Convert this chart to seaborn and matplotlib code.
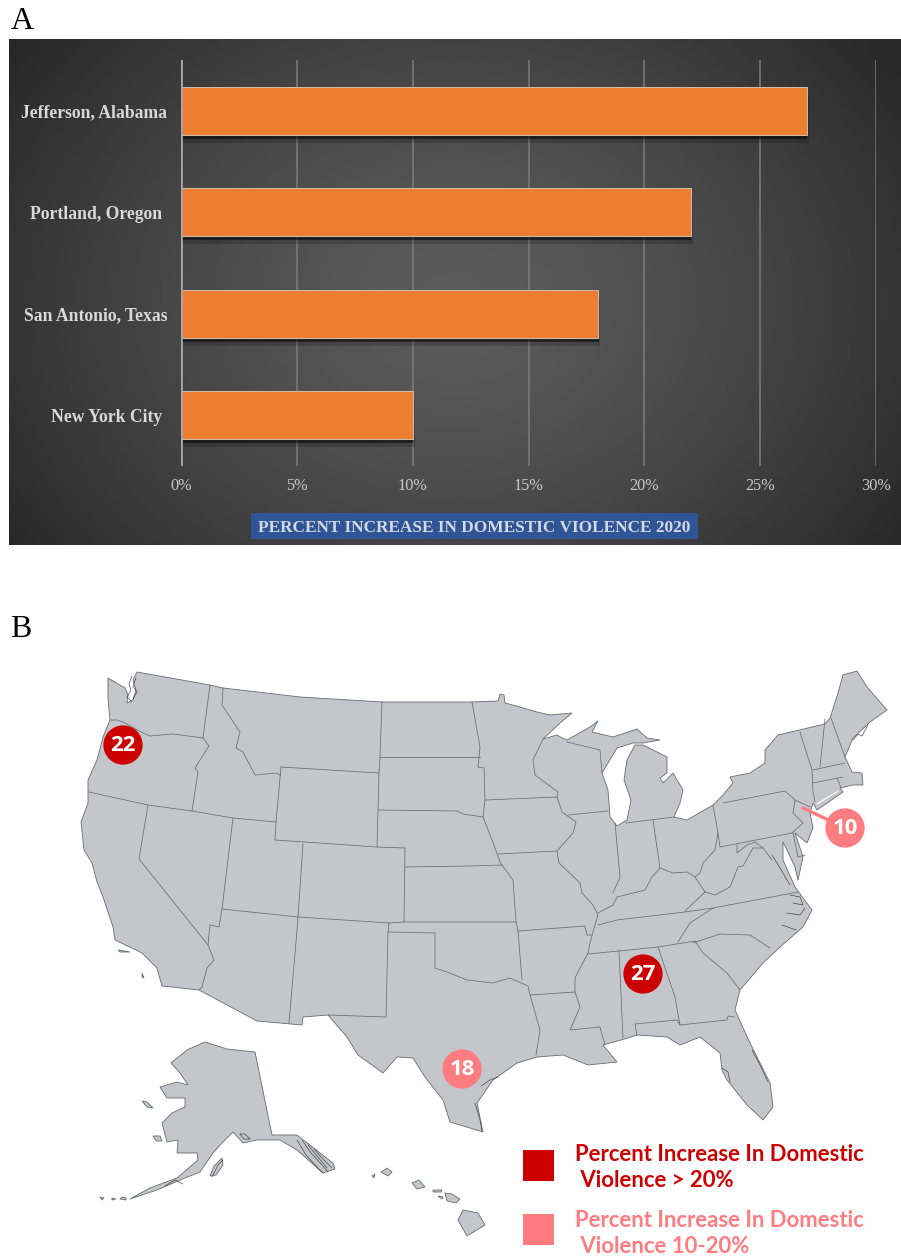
import numpy as np
import pandas as pd
import matplotlib
matplotlib.use("Agg")
import matplotlib.pyplot as plt
import matplotlib.patheffects as pe
from matplotlib.patches import Polygon, Rectangle
from matplotlib.transforms import ScaledTranslation
import seaborn as sns

# bar panel
cities = ["Jefferson, Alabama", "Portland, Oregon", "San Antonio, Texas", "New York City"]
increase = [27, 22, 18, 10]
x_ticks = [0, 5, 10, 15, 20, 25, 30]
panel_title = "PERCENT INCREASE IN DOMESTIC VIOLENCE 2020"

# map panel, values and where the cities sit on the map (pixels of the picture)
map_values = [22, 27, 18, 10]
map_x = [123, 643, 462, 845]
map_y = [745, 974, 1069, 828]
map_group = ["high", "high", "low", "low"]
legend_text = ["Percent Increase In Domestic\n Violence > 20%",
               "Percent Increase In Domestic\n Violence 10-20%"]

conus = [(137, 672), (210, 685), (223, 688), (300, 697), (382, 702), (472, 702), (498, 701), (500, 694), (504, 695),
         (505, 703), (520, 707), (537, 712), (550, 715), (572, 713), (560, 723), (543, 739), (557, 735), (562, 738),
         (567, 740), (590, 727), (598, 721), (592, 732), (613, 737), (637, 729), (647, 738), (660, 740), (643, 743),
         (633, 743), (617, 748), (602, 773), (608, 790), (610, 817), (617, 826), (627, 820), (631, 800), (624, 780),
         (627, 760), (635, 745), (643, 745), (667, 757), (667, 773), (660, 778), (663, 783), (673, 773), (683, 790),
         (680, 803), (674, 817), (687, 820), (713, 805), (723, 795), (733, 783), (730, 777), (750, 773), (765, 763),
         (765, 750), (778, 735), (825, 724), (830, 718), (838, 693), (843, 675), (857, 671), (867, 687), (887, 710),
         (870, 722), (853, 738), (845, 757), (852, 772), (862, 773), (863, 785), (853, 785), (840, 788), (843, 792),
         (817, 810), (813, 803), (810, 813), (813, 828), (807, 843), (795, 833), (803, 857), (798, 880), (795, 867),
         (787, 850), (783, 842), (783, 860), (795, 887), (812, 910), (803, 927), (780, 947), (763, 963), (740, 990),
         (735, 1010), (750, 1043), (770, 1083), (773, 1107), (763, 1120), (747, 1105), (727, 1080), (722, 1070),
         (720, 1053), (700, 1037), (680, 1045), (667, 1037), (637, 1035), (628, 1038), (603, 1045), (617, 1062),
         (588, 1065), (563, 1055), (537, 1057), (517, 1063), (493, 1080), (477, 1103), (483, 1132), (450, 1122),
         (443, 1100), (425, 1077), (413, 1058), (397, 1057), (383, 1073), (358, 1055), (347, 1037), (328, 1015),
         (303, 1017), (302, 1025), (257, 1021), (199, 990), (162, 986), (157, 968), (142, 953), (115, 940), (113, 927),
         (103, 897), (97, 882), (92, 863), (84, 850), (81, 822), (88, 803), (88, 780), (97, 760), (103, 737),
         (110, 720), (108, 700), (108, 678), (125, 688), (128, 695), (127, 703), (133, 700), (136, 690), (133, 680)]

state_lines = [
    [(210, 685), (203, 738)],
    [(110, 720), (117, 720), (123, 722), (143, 733), (150, 736), (173, 734), (203, 738)],
    [(203, 738), (209, 746), (195, 768), (198, 772), (192, 811)],
    [(89, 792), (148, 805), (192, 811), (233, 818), (276, 822)],
    [(223, 688), (222, 705), (240, 732), (236, 748), (243, 752), (255, 775), (277, 773), (281, 776)],
    [(281, 767), (276, 822), (275, 840)],
    [(281, 767), (379, 773)],
    [(275, 840), (377, 847), (405, 848)],
    [(382, 702), (380, 757), (379, 773), (378, 810), (377, 847)],
    [(380, 757), (480, 757)],
    [(378, 810), (457, 811), (463, 814), (483, 817)],
    [(405, 848), (404, 922)],
    [(405, 867), (470, 866), (502, 865)],
    [(148, 805), (139, 859), (208, 945)],
    [(208, 945), (214, 960), (207, 968), (202, 987), (199, 990)],
    [(233, 818), (222, 909), (219, 927), (210, 925), (208, 945)],
    [(303, 844), (298, 917), (297, 930), (289, 1023)],
    [(222, 909), (298, 917), (389, 923), (404, 922), (470, 922), (516, 922)],
    [(389, 923), (388, 932), (386, 1017), (328, 1015)],
    [(388, 932), (435, 933), (435, 968), (447, 972), (467, 980), (493, 983), (510, 978), (528, 986), (530, 995),
     (540, 1030), (536, 1055)],
    [(518, 931), (522, 980)],
    [(530, 995), (575, 992)],
    [(502, 865), (513, 880), (516, 922), (518, 931), (585, 926), (587, 935), (592, 935)],
    [(472, 702), (480, 747), (478, 767), (484, 768), (485, 800), (483, 817), (492, 840), (500, 862), (502, 865)],
    [(485, 800), (557, 797)],
    [(543, 739), (533, 760), (535, 775), (558, 792), (557, 797), (562, 812), (576, 822), (573, 833), (565, 842),
     (557, 851), (559, 863), (580, 883), (582, 893), (593, 905), (598, 915), (595, 925), (590, 943), (588, 953),
     (575, 978), (575, 992), (580, 1007), (570, 1030), (600, 1027), (605, 1045)],
    [(498, 854), (557, 851)],
    [(568, 815), (608, 811)],
    [(567, 742), (600, 750), (602, 773)],
    [(588, 954), (619, 951), (658, 947), (695, 941)],
    [(619, 951), (623, 1038)],
    [(658, 947), (675, 997), (680, 1025)],
    [(635, 1024), (637, 1036)],
    [(635, 1024), (677, 1020), (680, 1025), (727, 1020), (728, 1016), (735, 1017)],
    [(695, 941), (703, 953), (727, 973), (740, 990)],
    [(678, 942), (690, 923), (713, 908)],
    [(598, 925), (617, 920), (685, 912), (713, 908), (798, 892)],
    [(685, 911), (705, 892), (695, 877), (687, 872), (673, 873), (660, 868), (652, 877), (645, 890), (633, 893),
     (617, 897), (613, 905), (598, 913)],
    [(615, 823), (620, 877), (613, 893)],
    [(653, 820), (660, 868)],
    [(626, 823), (674, 817)],
    [(713, 805), (718, 833), (720, 847), (792, 833)],
    [(718, 833), (715, 850), (703, 863), (700, 873), (695, 877)],
    [(737, 844), (737, 853), (747, 845), (755, 842), (763, 848)],
    [(705, 892), (715, 895), (730, 887), (738, 867), (743, 866), (753, 848), (763, 848), (772, 860)],
    [(723, 803), (785, 791), (795, 800), (793, 813), (803, 823), (792, 833)],
    [(795, 800), (810, 807)],
    [(800, 732), (812, 770), (813, 792), (815, 802)],
    [(825, 719), (820, 767)],
    [(831, 718), (845, 757)],
    [(813, 770), (845, 763)],
    [(813, 783), (843, 777)],
    [(837, 778), (841, 788)],
    [(793, 833), (798, 857), (805, 855)],
    [(693, 943), (720, 934), (750, 935), (770, 948)],
]

# dark scribbles of the broken coasts: Puget Sound, Alaska panhandle, sounds
coast_bits = [
    [(132, 676), (129, 684), (131, 690), (127, 697), (132, 702)],
    [(136, 678), (133, 686), (137, 692), (133, 699)],
    [(297, 1140), (306, 1155), (318, 1168), (323, 1173)],
    [(302, 1140), (311, 1153), (322, 1165), (328, 1172)],
    [(308, 1145), (317, 1156), (327, 1168)],
    [(314, 1149), (322, 1158), (332, 1168)],
    [(240, 1134), (244, 1139), (250, 1139), (245, 1134), (240, 1134)],
    [(212, 1177), (218, 1165), (223, 1160)],
    [(165, 1186), (175, 1180), (183, 1184)],
    [(790, 895), (800, 897), (803, 905), (793, 903)],
    [(787, 913), (800, 915), (805, 908)],
    [(782, 925), (796, 930)],
    [(772, 855), (780, 868), (790, 885)],
    [(853, 740), (858, 734), (862, 736), (868, 725)],
    [(481, 1086), (490, 1080), (498, 1077)],
    [(475, 1103), (480, 1120), (482, 1131)],
    [(722, 1068), (728, 1072), (730, 1082)],
    [(752, 1050), (760, 1065), (768, 1082)],
]

alaska = [(255, 1052), (272, 1135), (280, 1135), (297, 1135), (333, 1163), (335, 1169), (323, 1173), (297, 1150),
          (280, 1140), (270, 1140), (257, 1140), (243, 1143), (233, 1132), (222, 1143), (213, 1153), (200, 1172),
          (180, 1180), (157, 1190), (130, 1199), (150, 1188), (177, 1178), (198, 1160), (197, 1153), (177, 1153),
          (178, 1140), (167, 1142), (162, 1123), (172, 1113), (185, 1107), (185, 1098), (167, 1098), (160, 1087),
          (177, 1082), (188, 1085), (180, 1073), (171, 1063), (187, 1050), (205, 1042), (227, 1049)]
islands = [
    [(463, 1210), (478, 1213), (485, 1225), (467, 1236), (458, 1220)],
    [(445, 1193), (452, 1194), (460, 1199), (456, 1203), (447, 1201)],
    [(412, 1183), (419, 1180), (425, 1187), (417, 1189)],
    [(381, 1172), (387, 1168), (392, 1172), (388, 1176)],
    [(433, 1190), (442, 1190), (441, 1192), (433, 1192)],
    [(438, 1196), (443, 1197), (442, 1199)],
    [(372, 1176), (375, 1174), (374, 1178)],
    [(153, 1136), (160, 1136), (162, 1141), (156, 1141)],
    [(142, 1101), (147, 1102), (153, 1108), (147, 1107)],
    [(210, 1176), (214, 1166), (222, 1158), (223, 1165), (216, 1175)],
    [(118, 950), (130, 952), (120, 952)],
    [(142, 973), (144, 978), (142, 977)],
    [(126, 1198), (122, 1197), (120, 1199), (126, 1200)],
    [(116, 1199), (112, 1198), (112, 1200)],
    [(104, 1198), (100, 1197), (102, 1200)],
]

sns.set_theme(style="white")
plt.rcParams["font.family"] = ["Liberation Serif", "DejaVu Serif"]

W, H = 901, 1256
fig = plt.figure(figsize=(W / 100, H / 100), dpi=100)

def px_axes(left, top, right, bottom):
    return fig.add_axes([left / W, 1 - bottom / H, (right - left) / W, (bottom - top) / H])

# map layer, whole picture in pixel coordinates
ax_map = fig.add_axes([0, 0, 1, 1])
ax_map.set_xlim(0, W)
ax_map.set_ylim(H, 0)
ax_map.axis("off")

land = "#c3c6ca"
edge = "#686b6f"
for shape in [conus, alaska] + islands:
    ax_map.add_patch(Polygon(shape, closed=True, fc=land, ec=edge, lw=0.6, zorder=1))
for line in state_lines:
    xs, ys = zip(*line)
    ax_map.plot(xs, ys, color=edge, lw=0.55, zorder=2)
for line in coast_bits:
    xs, ys = zip(*line)
    ax_map.plot(xs, ys, color="#3a3b3d", lw=0.45, zorder=2)
# Long Island Sound
ax_map.plot([817, 838], [804, 791], color="white", lw=0.8, zorder=2)

df_map = pd.DataFrame({"x": map_x, "y": map_y, "v": map_values, "group": map_group})
colors = {"high": "#cc0000", "low": "#ff7c80"}
# pointer from the New York bubble
ax_map.plot([845, 803], [828, 808], color=colors["low"], lw=2.4, zorder=3, solid_capstyle="round")
sns.scatterplot(data=df_map, x="x", y="y", hue="group", palette=colors, s=800, linewidth=0,
                legend=False, ax=ax_map, zorder=4)
ax_map.set_xlim(0, W)
ax_map.set_ylim(H, 0)
ax_map.axis("off")
for _, r in df_map.iterrows():
    ax_map.text(r["x"], r["y"] + 0.5, str(r["v"]), color="white", ha="center", va="center",
                family="Open Sans", fontweight="bold", fontsize=16, zorder=5)

for top, mid, key, txt in zip([1150, 1214], [1167.5, 1233.5], ["high", "low"], legend_text):
    ax_map.add_patch(Rectangle((523, top), 31, 31, fc=colors[key], ec="none", zorder=3))
    ax_map.text(575, mid, txt, color=colors[key], ha="left", va="center", family="Lato",
                fontweight="bold", fontsize=15.9, linespacing=1.32, zorder=3)

ax_map.text(11, 29, "A", color="black", fontsize=23, ha="left", va="baseline")
ax_map.text(10, 637, "B", color="black", fontsize=23, ha="left", va="baseline")

# dark panel behind the bars
ax_bg = px_axes(9, 39, 901, 545)
yy, xx = np.mgrid[0:1:200j, 0:1:350j]
dist = np.sqrt(((xx - 0.5) / 0.6) ** 2 + ((yy - 0.52) / 0.85) ** 2)
shade = 0.36 - 0.2 * np.clip(dist, 0, 1) ** 1.4
ax_bg.imshow(shade, cmap="gray", vmin=0, vmax=1, aspect="auto", interpolation="bilinear")
ax_bg.axis("off")

# bars
ax = px_axes(181, 60, 876, 466)
ax.patch.set_alpha(0)
df_bar = pd.DataFrame({"city": cities, "increase": increase})
sns.barplot(data=df_bar, y="city", x="increase", color="#ed7d31", saturation=1, width=0.47,
            edgecolor="#cdbfb2", linewidth=0.7, ax=ax)
for bar in ax.patches:
    bar.set_path_effects([pe.SimplePatchShadow(offset=(1.5, -6), shadow_rgbFace="black", alpha=0.18),
                          pe.SimplePatchShadow(offset=(0.5, -3), shadow_rgbFace="black", alpha=0.5),
                          pe.Normal()])
ax.set_xlim(0, 30)
ax.set_xticks(x_ticks)
ax.set_xticklabels([f"{t}%" for t in x_ticks])
ax.set_xlabel("")
ax.set_ylabel("")
ax.set_axisbelow(True)
ax.xaxis.grid(True, color="#7c7c7c", lw=1.1)
ax.yaxis.grid(False)
sns.despine(ax=ax, left=True, bottom=True)
ax.axvline(0, color="#a8a8a8", lw=2, zorder=1)
ax.tick_params(axis="x", length=0, pad=9, labelsize=11.7, labelcolor="#c9c9c9")
ax.tick_params(axis="y", length=0, pad=10, labelsize=12.7, labelcolor="#d9d9d9")
for lab in ax.get_yticklabels():
    lab.set_fontweight("bold")
    if lab.get_text() in ("Portland, Oregon", "New York City"):
        lab.set_transform(lab.get_transform() + ScaledTranslation(-5 / 100, 0, fig.dpi_scale_trans))

# title strip
ax_title = px_axes(251, 513, 698, 539)
ax_title.set_facecolor("#2f5597")
ax_title.set_xticks([])
ax_title.set_yticks([])
sns.despine(ax=ax_title, left=True, bottom=True)
ax_title.text(0.5, 0.5, panel_title, color="#d5d9e2", ha="center", va="center_baseline", fontweight="bold",
              fontsize=12.45, transform=ax_title.transAxes)

fig.savefig("out.png", dpi=100, facecolor="white")
